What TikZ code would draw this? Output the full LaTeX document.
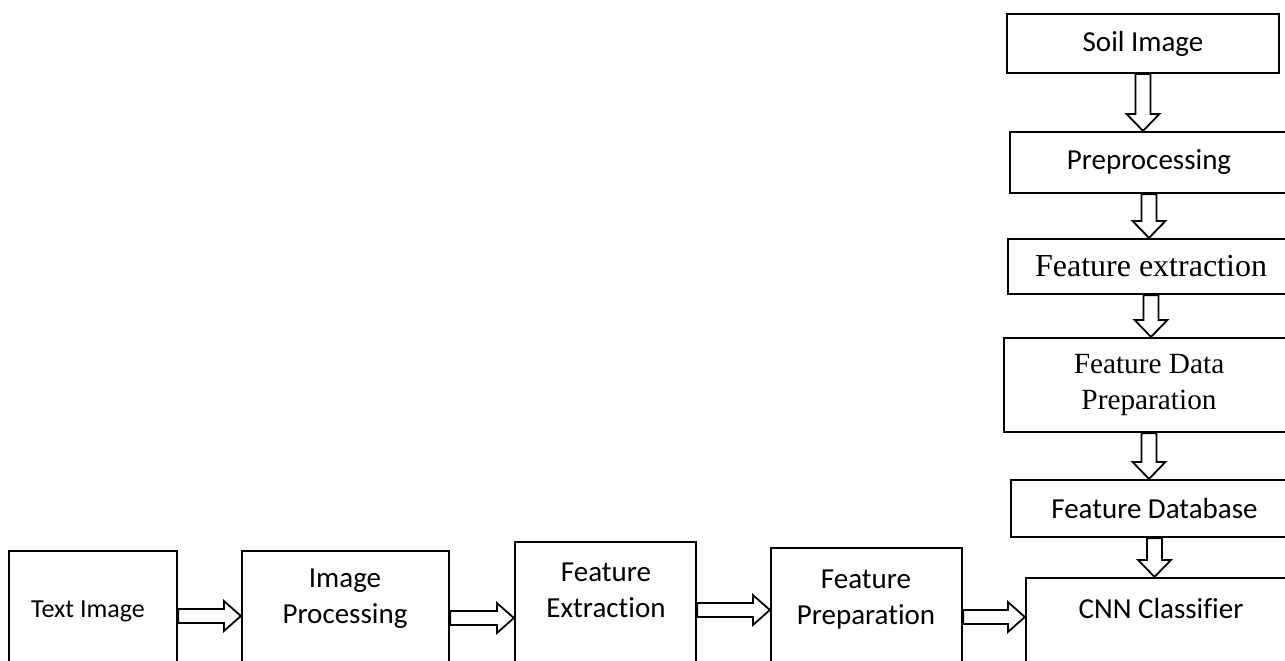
\documentclass[tikz,border=0pt]{standalone}
\usepackage{fontspec}
\setmainfont{Carlito}[Ligatures=NoCommon]
\newfontfamily\timesfont{Liberation Serif}
\usetikzlibrary{calc}

\begin{document}
\begin{tikzpicture}[x=1pt,y=-1pt,line join=miter,
  box/.style={draw,line width=2.2pt,fill=white,inner sep=0pt,align=center,font=\fontsize{29}{36}\selectfont},
  txt/.style={inner sep=0pt,align=center,font=\fontsize{29}{36}\selectfont},
  serif/.style={font=\timesfont\fontsize{29.3}{36.7}\selectfont},
  vblock/.style={draw,line width=1.8pt,fill=white,to path={
    ($(\tikztostart)+(-7.5,0)$) -- ($(\tikztostart |- \tikztotarget)+(-7.5,-17)$)
    -- ($(\tikztostart |- \tikztotarget)+(-16.5,-17)$) -- (\tikztostart |- \tikztotarget)
    -- ($(\tikztostart |- \tikztotarget)+(16.5,-17)$) -- ($(\tikztostart |- \tikztotarget)+(7.5,-17)$)
    -- ($(\tikztostart)+(7.5,0)$) -- cycle}},
  hblock/.style={draw,line width=1.8pt,fill=white,to path={
    ($(\tikztostart)+(0,-7)$) -- ($(\tikztostart -| \tikztotarget)+(-17,-7)$)
    -- ($(\tikztostart -| \tikztotarget)+(-17,-15)$) -- (\tikztostart -| \tikztotarget)
    -- ($(\tikztostart -| \tikztotarget)+(-17,15)$) -- ($(\tikztostart -| \tikztotarget)+(-17,7)$)
    -- ($(\tikztostart)+(0,7)$) -- cycle}}]
\clip (0,0) rectangle (1285,661);
\fill[white] (0,0) rectangle (1285,661);

% right column
\node[box,minimum width=272pt,minimum height=59pt] (soil) at (1143,43.5) {Soil Image};
\node[box,minimum width=278pt,minimum height=61pt] (prep) at (1149,162.5) {Preprocessing};
\node[box,serif,font=\timesfont\fontsize{32}{38}\selectfont,minimum width=286pt,minimum height=55pt] (fextr) at (1151,266.5) {Feature extraction};
\node[box,serif,minimum width=290pt,minimum height=94pt] (fdata) at (1149,385) {Feature Data\\Preparation};
\node[box,minimum width=287pt,minimum height=57pt] (fdb) at (1154.5,508.5) {Feature Database};

% bottom row
\node[box,minimum width=168pt,minimum height=130pt] (timg) at (93,616) {};
\node[txt,font=\fontsize{26}{32}\selectfont] (timg-t) at (88,611) {Text Image};
\node[box,minimum width=207pt,minimum height=134pt] (ipro) at (345.5,618) {};
\node[txt] (ipro-t) at (345,599) {Image\\Processing};
\node[box,minimum width=181pt,minimum height=136pt] (fext) at (605.5,610) {};
\node[txt] (fext-t) at (606,590) {Feature\\Extraction};
\node[box,minimum width=191pt,minimum height=138pt] (fprep) at (866.5,617) {};
\node[txt] (fprep-t) at (866,600) {Feature\\Preparation};
\node[box,minimum width=270pt,minimum height=124pt] (cnn) at (1161,640) {};
\node[txt] (cnn-t) at (1161,609) {CNN Classifier};

% block arrows
\draw[vblock] (soil.south) to (prep.north);
\draw[vblock] (prep.south) to (fextr.north);
\draw[vblock] (fextr.south) to (fdata.north);
\draw[vblock] (fdata.south) to (fdb.north);
\draw[vblock] (fdb.south) to (cnn.north);
\draw[hblock] (timg.east) to (ipro.west);
\draw[hblock] (ipro.east) to (fext.west);
\draw[hblock] (fext.east) to (fprep.west);
\draw[hblock] (fprep.east) to (cnn.west);
\end{tikzpicture}
\end{document}
